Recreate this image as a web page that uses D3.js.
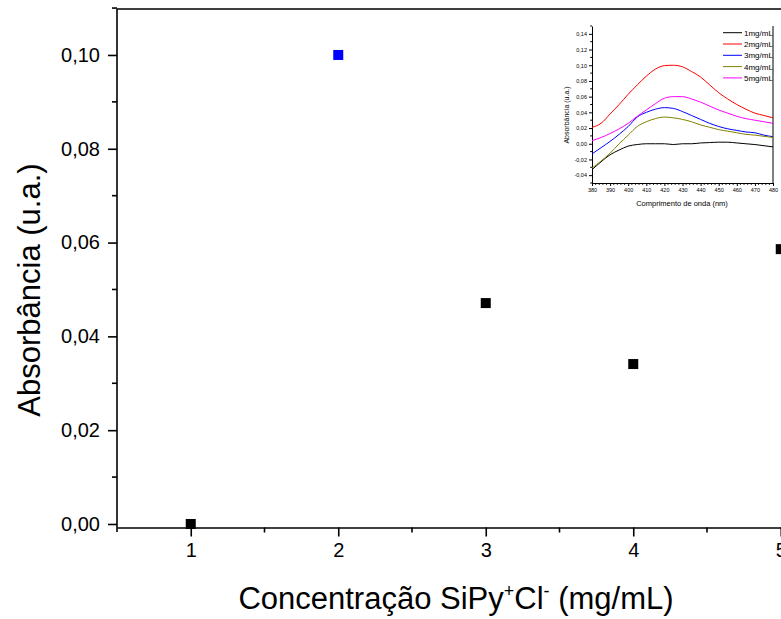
<!DOCTYPE html>
<html lang="en"><head>
<meta charset="utf-8">
<title>Absorbância vs Concentração</title>
<script src="https://cdn.jsdelivr.net/npm/d3@7/dist/d3.min.js"></script>
<style>
body{margin:0;background:#fff;}
svg{font-family:Arial,"Liberation Sans",sans-serif;}
.axis path,.axis line{stroke:#000;stroke-width:1.6;}
.inset .axis path,.inset .axis line{stroke-width:1;}
</style>
</head>
<body>
<script>
var width = 781, height = 619;

// main scatter data
var conc = [1, 2, 3, 4, 5];
var absorb = [0.0000, 0.1000, 0.0471, 0.0341, 0.0586];
var pointColor = ["#000000", "#0000ff", "#000000", "#000000", "#000000"];
var yTicks = [0, 0.02, 0.04, 0.06, 0.08, 0.10];
var yTickLabels = ["0,00", "0,02", "0,04", "0,06", "0,08", "0,10"];

// inset spectra data
var wl = [380, 385, 390, 395, 400, 405, 410, 415, 420, 425, 430, 435, 440, 445, 450, 455, 460, 465, 470, 475, 480];
var s1 = [-0.033, -0.023, -0.014, -0.008, -0.003, -0.001, 0.000, 0.000, 0.000, -0.001, 0.000, 0.000, 0.001, 0.0015, 0.002, 0.002, 0.001, 0.000, -0.001, -0.0025, -0.004];
var s2 = [0.021, 0.026, 0.038, 0.050, 0.063, 0.075, 0.086, 0.095, 0.0995, 0.100, 0.098, 0.092, 0.085, 0.075, 0.065, 0.057, 0.050, 0.044, 0.039, 0.036, 0.033];
var s3 = [-0.013, -0.005, 0.003, 0.012, 0.022, 0.034, 0.040, 0.044, 0.046, 0.045, 0.041, 0.036, 0.031, 0.026, 0.022, 0.019, 0.017, 0.015, 0.014, 0.011, 0.009];
var s4 = [-0.031, -0.022, -0.012, 0.000, 0.011, 0.022, 0.028, 0.032, 0.034, 0.033, 0.031, 0.028, 0.024, 0.021, 0.018, 0.016, 0.014, 0.012, 0.011, 0.0095, 0.008];
var s5 = [0.004, 0.008, 0.013, 0.019, 0.026, 0.035, 0.043, 0.051, 0.058, 0.060, 0.060, 0.057, 0.053, 0.048, 0.043, 0.039, 0.035, 0.032, 0.030, 0.028, 0.026];
var seriesNames = ["1mg/mL", "2mg/mL", "3mg/mL", "4mg/mL", "5mg/mL"];
var seriesColors = ["#000000", "#ff0000", "#0000ff", "#808000", "#ff00ff"];
var insetYTicks = [-0.04, -0.02, 0, 0.02, 0.04, 0.06, 0.08, 0.10, 0.12, 0.14];

var svg = d3.select("body").append("svg").attr("width", width).attr("height", height);

var x = d3.scaleLinear().domain([0.5, 5.5]).range([117, 854.5]);
var y = d3.scaleLinear().domain([-0.00075, 0.1098]).range([527.5, 9]);

// frame top line
svg.append("line").attr("x1", 117).attr("x2", width).attr("y1", 9).attr("y2", 9)
    .attr("stroke", "#000").attr("stroke-width", 1.6);

// x axis
var gX = svg.append("g").attr("class", "axis").attr("transform", "translate(0,527.5)");
gX.call(d3.axisBottom(x).tickValues([1, 2, 3, 4, 5]).tickSize(9).tickSizeOuter(0).tickPadding(6).tickFormat(d3.format("d")));
gX.selectAll("text").attr("font-size", "20px").attr("fill", "#000").attr("font-family", "Arial, 'Liberation Sans', sans-serif");
gX.append("g").selectAll("line").data([1.5, 2.5, 3.5, 4.5]).enter().append("line")
    .attr("x1", d => x(d)).attr("x2", d => x(d)).attr("y1", 0).attr("y2", 5);

// y axis
var gY = svg.append("g").attr("class", "axis").attr("transform", "translate(117,0)");
gY.call(d3.axisLeft(y).tickValues(yTicks).tickSize(9).tickSizeOuter(0).tickPadding(8).tickFormat((d, i) => yTickLabels[i]));
gY.select(".domain").attr("d", "M0,9V532");
gY.selectAll("text").attr("font-size", "20px").attr("fill", "#000").attr("font-family", "Arial, 'Liberation Sans', sans-serif");
gY.append("g").selectAll("line").data([0.01, 0.03, 0.05, 0.07, 0.09, 0.11]).enter().append("line")
    .attr("x1", 0).attr("x2", -5).attr("y1", d => y(d)).attr("y2", d => y(d));

// axis titles
svg.append("text").attr("transform", "translate(40,290) rotate(-90)").attr("text-anchor", "middle")
    .attr("font-size", "31px").text("Absorbância (u.a.)");
var xt = svg.append("text").attr("x", 456).attr("y", 609).attr("text-anchor", "middle").attr("font-size", "31px");
xt.append("tspan").text("Concentração SiPy");
xt.append("tspan").attr("font-size", "18px").attr("dy", -12).text("+");
xt.append("tspan").attr("dy", 12).text("Cl");
xt.append("tspan").attr("font-size", "18px").attr("dy", -12).text("-");
xt.append("tspan").attr("dy", 12).text(" (mg/mL)");

// points
svg.selectAll("rect.pt").data(conc).enter().append("rect").attr("class", "pt")
    .attr("x", d => x(d) - 5).attr("y", (d, i) => y(absorb[i]) - 5)
    .attr("width", 10).attr("height", 10).attr("fill", (d, i) => pointColor[i]);

// inset
var inset = svg.append("g").attr("class", "inset");
var ix = d3.scaleLinear().domain([380, 480]).range([592, 773]);
var iy = d3.scaleLinear().domain([-0.05, 0.15]).range([183, 26]);

var gIX = inset.append("g").attr("class", "axis").attr("transform", "translate(0,183)");
gIX.call(d3.axisBottom(ix).tickValues(d3.range(380, 481, 10)).tickSize(3).tickSizeOuter(0).tickPadding(2).tickFormat(d3.format("d")));
gIX.selectAll("text").attr("font-size", "5.5px").attr("fill", "#000");
gIX.append("g").selectAll("line").data(d3.range(382, 480, 2).filter(d => d % 10 != 0)).enter().append("line")
    .attr("x1", d => ix(d)).attr("x2", d => ix(d)).attr("y1", 0).attr("y2", 1.8);

var gIY = inset.append("g").attr("class", "axis").attr("transform", "translate(592,0)");
gIY.call(d3.axisLeft(iy).tickValues(insetYTicks).tickSize(3).tickSizeOuter(0).tickPadding(2)
    .tickFormat(d => d3.format(".2f")(d).replace(".", ",").replace("−", "-")));
gIY.selectAll("text").attr("font-size", "5.5px").attr("fill", "#000");
gIY.append("g").selectAll("line").data(d3.range(-0.05, 0.151, 0.01).filter((d, i) => i % 2 == 0)).enter().append("line")
    .attr("x1", 0).attr("x2", -1.8).attr("y1", d => iy(d)).attr("y2", d => iy(d));

inset.append("line").attr("x1", 773).attr("x2", 773).attr("y1", 26).attr("y2", 183)
    .attr("stroke", "#000").attr("stroke-width", 1);

inset.append("text").attr("x", 682).attr("y", 206).attr("text-anchor", "middle")
    .attr("font-size", "7.5px").text("Comprimento de onda (nm)");
inset.append("text").attr("transform", "translate(569,115) rotate(-90)").attr("text-anchor", "middle")
    .attr("font-size", "7px").text("Absorbância (u.a.)");

var line = d3.line().x((d, i) => ix(wl[i])).y(d => iy(d)).curve(d3.curveMonotoneX);
[s1, s2, s3, s4, s5].forEach(function(s, k) {
    inset.append("path").attr("d", line(s)).attr("fill", "none")
        .attr("stroke", seriesColors[k]).attr("stroke-width", 1);
});

var leg = inset.append("g");
seriesNames.forEach(function(n, k) {
    var ly = 32.7 + k * 11.3;
    leg.append("line").attr("x1", 723).attr("x2", 742).attr("y1", ly).attr("y2", ly)
        .attr("stroke", seriesColors[k]).attr("stroke-width", 1);
    leg.append("text").attr("x", 744).attr("y", ly + 3).attr("font-size", "8px").text(n);
});
</script>
</body>
</html>
